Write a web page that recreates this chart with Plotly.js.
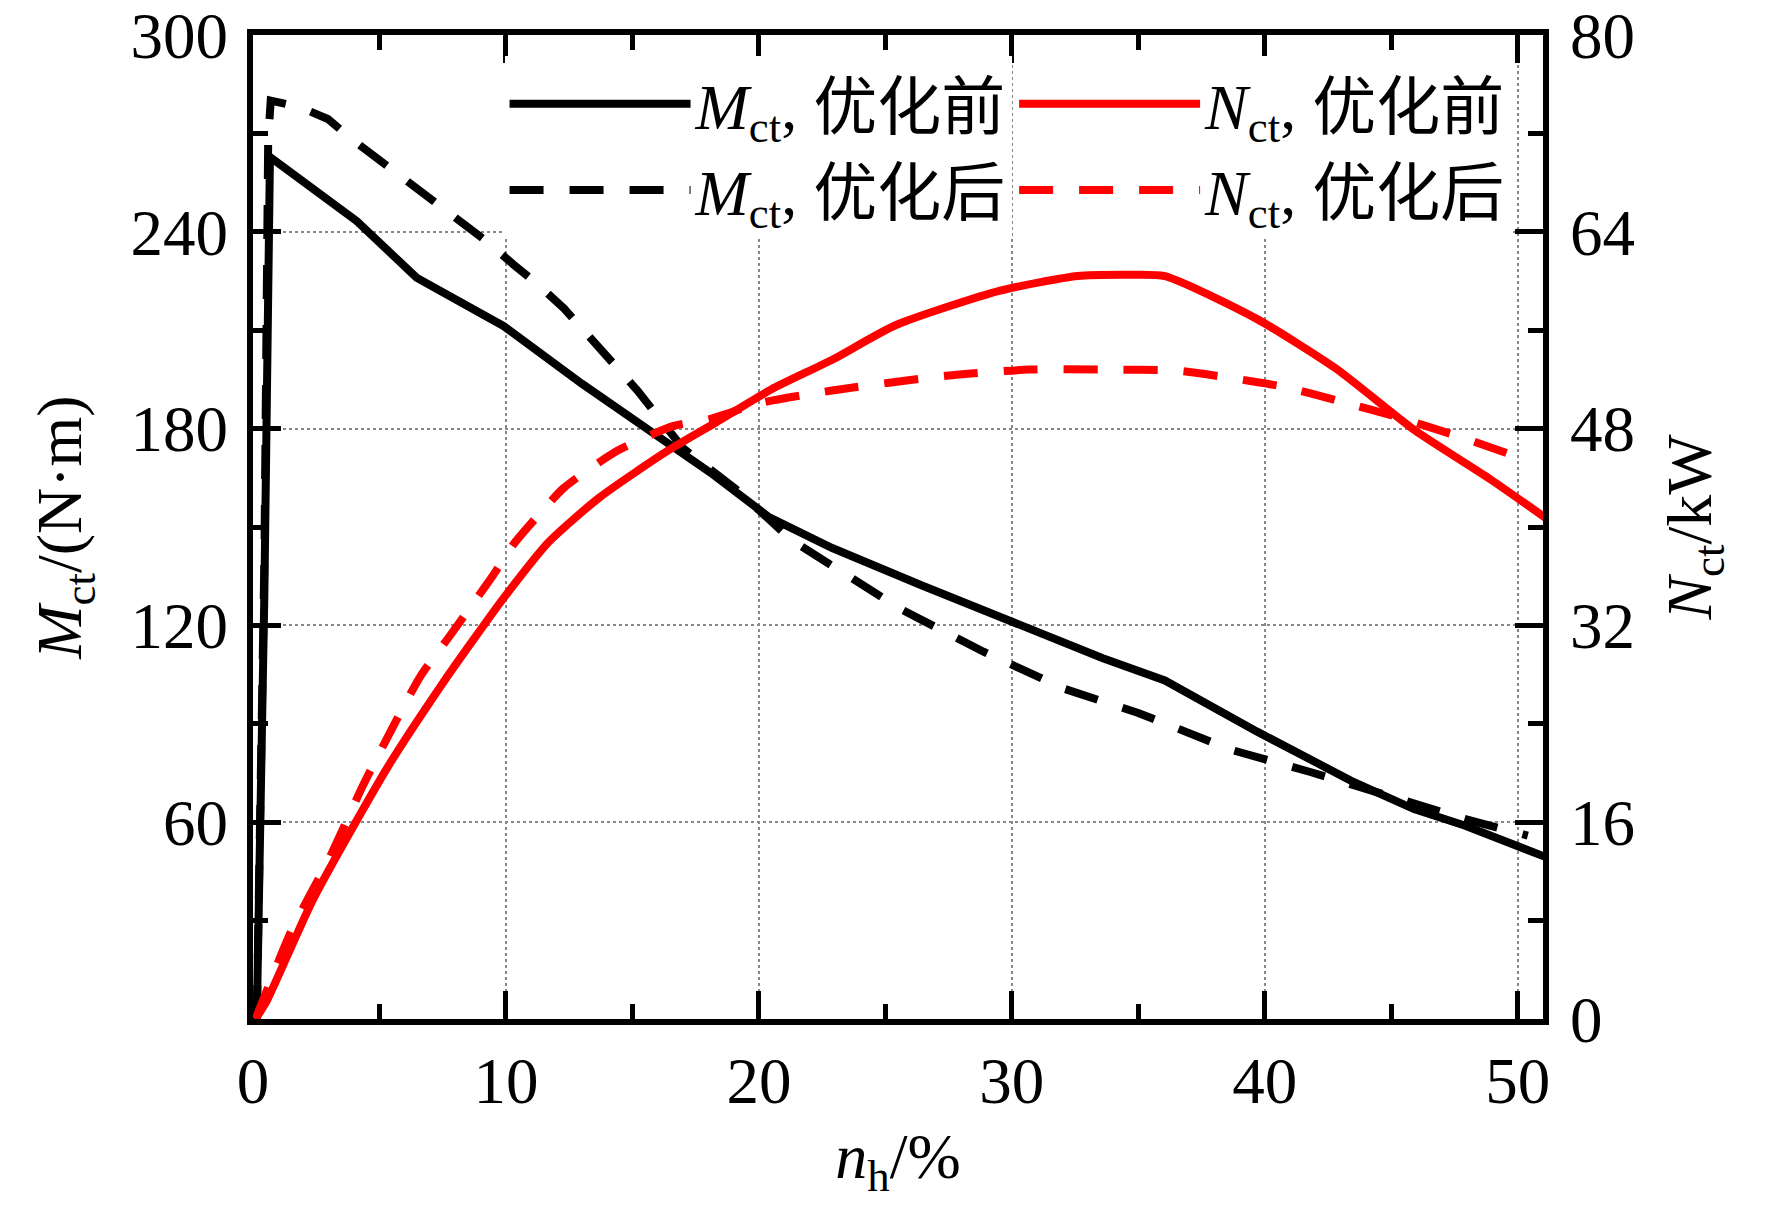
<!DOCTYPE html>
<html>
<head>
<meta charset="utf-8">
<script src="https://cdn.plot.ly/plotly-3.0.1.min.js"></script>
<style>
html,body{margin:0;padding:0;background:#fff;}
#chart{width:1772px;height:1211px;}
</style>
</head>
<body>
<div id="chart"></div>
<script>
// ---- data ----
const mBeforeX = [0.15, 0.45, 0.67, 2.25, 4.1, 6.47, 9.9, 13.0, 15.7, 18.1, 20.4, 22.9, 26.4, 29.9, 33.6, 36.05, 39.7, 43.4, 45.9, 47.9, 51.2];
const mBefore  = [0, 130, 262.8, 253.7, 243.3, 226, 211.3, 193.7, 179.6, 166.5, 153, 143.6, 132.3, 121.3, 110, 103.2, 87.6, 72.7, 64, 59, 49.1];

const mAfterX = [0.15, 0.45, 0.6, 0.7, 1.86, 2.96, 3.95, 7.1, 9.25, 10.3, 11.3, 12.3, 13.2, 15.2, 17.0, 19.1, 21.3, 24.4, 25.6, 28.9, 32.1, 35.0, 38.7, 41.8, 43.8, 47.9, 50.4];
const mAfter  = [0, 140, 268, 280, 278, 274.4, 268, 250, 237, 230, 223.7, 216.6, 209, 191.6, 174, 161.5, 146, 131, 125, 111.9, 100.6, 93.3, 82, 75.3, 70.7, 61, 55.9];

const nBeforeX = [0.1, 0.55, 2.37, 5.3, 7.5, 8.7, 9.9, 11.7, 13.7, 16.4, 18.3, 20.5, 22.9, 25.4, 29.5, 32.6, 34.5, 36.05, 39.7, 42.8, 45.9, 48.9, 51.2];
const nBefore  = [0, 1.5, 9.7, 20.4, 27.3, 30.8, 34.2, 38.8, 42.4, 46.2, 48.5, 51.2, 53.6, 56.4, 59.2, 60.4, 60.5, 60.4, 56.9, 52.9, 47.9, 43.9, 40.6];

const nAfterX = [0.1, 1.5, 3.0, 4.4, 6.6, 7.8, 9.5, 10.3, 11.3, 12.3, 14.4, 16.6, 18.1, 20.1, 22.9, 27.4, 30.7, 33.6, 36.6, 38.7, 40.75, 43.0, 45.3, 47.9, 50.4];
const nAfter  = [0, 7.1, 13, 19.2, 27.8, 31.2, 36.1, 38.6, 41.0, 43.2, 46.2, 48.2, 48.8, 50.1, 51.1, 52.3, 52.8, 52.8, 52.7, 52.1, 51.4, 50.2, 48.9, 47.2, 45.4];

const names = ['<i>M</i><sub>ct</sub>, 优化前', '<i>M</i><sub>ct</sub>, 优化后',
               '<i>N</i><sub>ct</sub>, 优化前', '<i>N</i><sub>ct</sub>, 优化后'];

const xTicks = [0, 10, 20, 30, 40, 50];
const yTicks = [60, 120, 180, 240, 300];
const y2Ticks = [0, 16, 32, 48, 64, 80];

// ---- styling ----
const FONT = 'Liberation Serif, Times New Roman, Noto Sans CJK SC, serif';
const LW = 8;
const DASH = '34px,26px';

const traces = [
  {x: mBeforeX, y: mBefore, name: names[0], mode: 'lines', line: {color: '#000', width: LW}, legend: 'legend'},
  {x: mAfterX, y: mAfter, name: names[1], mode: 'lines', line: {color: '#000', width: LW, dash: DASH}, legend: 'legend'},
  {x: nBeforeX, y: nBefore, name: names[2], mode: 'lines', yaxis: 'y2', line: {color: '#ff0000', width: LW, shape: 'spline', smoothing: 0.6}, legend: 'legend2'},
  {x: nAfterX, y: nAfter, name: names[3], mode: 'lines', yaxis: 'y2', line: {color: '#ff0000', width: LW, dash: DASH, shape: 'spline', smoothing: 0.6}, legend: 'legend2'}
];

const axCommon = {
  showline: true, linecolor: '#000', linewidth: 6,
  ticks: 'inside', ticklen: 28, tickwidth: 5, tickcolor: '#000',
  tickfont: {family: FONT, size: 65, color: '#000'},
  ticklabeloverflow: 'allow',
  zeroline: false, automargin: false
};

const legCommon = {
  bgcolor: 'rgba(255,255,255,1)', borderwidth: 0,
  font: {family: FONT, size: 64, color: '#000'},
  itemwidth: 181, tracegroupgap: 0, yanchor: 'top', xanchor: 'left',
  orientation: 'v', itemclick: false
};

const layout = {
  width: 1772, height: 1211,
  paper_bgcolor: '#fff', plot_bgcolor: '#fff',
  margin: {l: 253, r: 229, t: 35, b: 192},
  font: {family: FONT, size: 64, color: '#000'},
  showlegend: true,
  xaxis: Object.assign({}, axCommon, {
    range: [0, 51], tickmode: 'array', tickvals: xTicks,
    mirror: 'ticks', automargin: true,
    minor: {dtick: 5, tick0: 0, ticks: 'inside', ticklen: 15, tickwidth: 5, tickcolor: '#000', showgrid: false},
    showgrid: true, gridcolor: '#888', gridwidth: 2, griddash: '3px,3px',
    ticklabelstandoff: 0,
    title: {text: '<i>n</i><sub>h</sub>/%', font: {family: FONT, size: 64, color: '#000'}, standoff: 19}
  }),
  yaxis: Object.assign({}, axCommon, {
    range: [0, 300], tickmode: 'array', tickvals: yTicks,
    minor: {dtick: 30, tick0: 0, ticks: 'inside', ticklen: 15, tickwidth: 5, tickcolor: '#000', showgrid: false},
    showgrid: true, gridcolor: '#888', gridwidth: 2, griddash: '3px,3px',
    ticklabelstandoff: 6,
    title: {text: '<i>M</i><sub>ct</sub>/(N·m)', font: {family: FONT, size: 64, color: '#000'}, standoff: 30}
  }),
  yaxis2: Object.assign({}, axCommon, {
    range: [0, 80], tickmode: 'array', tickvals: y2Ticks,
    overlaying: 'y', side: 'right',
    minor: {dtick: 8, tick0: 0, ticks: 'inside', ticklen: 15, tickwidth: 5, tickcolor: '#000', showgrid: false},
    showgrid: false,
    ticklabelstandoff: 8,
    title: {text: '<i>N</i><sub>ct</sub>/kW', font: {family: FONT, size: 64, color: '#000'}, standoff: 34}
  }),
  legend: Object.assign({}, legCommon, {x: 0.195, y: 0.979}),
  legend2: Object.assign({}, legCommon, {x: 0.59, y: 0.979})
};

Plotly.newPlot('chart', traces, layout, {displayModeBar: false, staticPlot: true});
</script>
</body>
</html>
